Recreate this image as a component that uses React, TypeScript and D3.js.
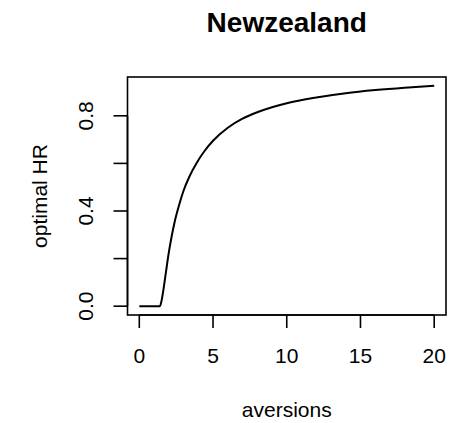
import React from "react";
import * as d3 from "d3";

// Optimal hedge ratio as a function of risk aversion
const aversions = [0, 0.5, 1.0, 1.4, 1.5, 1.6, 1.8, 2.0, 2.2, 2.4, 2.7, 3.0, 3.4, 3.9, 4.4, 5, 6, 7, 8, 9, 10, 12, 14, 16, 18, 20];
const optimalHR = [0, 0, 0, 0, 0.02, 0.055, 0.14, 0.225, 0.295, 0.355, 0.425, 0.485, 0.545, 0.603, 0.65, 0.695, 0.75, 0.788, 0.815, 0.836, 0.853, 0.877, 0.895, 0.908, 0.918, 0.926];

const xTicks = [0, 5, 10, 15, 20];
const yTicks = [0, 0.2, 0.4, 0.6, 0.8];
const yTickLabels = ["0.0", "", "0.4", "", "0.8"];

const title = "Newzealand";
const xLabel = "aversions";
const yLabel = "optimal HR";

const W = 463;
const H = 423;
const plot = { left: 127.5, right: 446, top: 77, bottom: 315 };

export default function App() {
  const [x0, x1] = d3.extent(aversions) as [number, number];
  const [y0, y1] = d3.extent(optimalHR) as [number, number];
  const px = (x1 - x0) * 0.04;
  const py = (y1 - y0) * 0.04;

  const x = d3.scaleLinear().domain([x0 - px, x1 + px]).range([plot.left, plot.right]);
  const y = d3.scaleLinear().domain([y0 - py, y1 + py]).range([plot.bottom, plot.top]);

  const pts = aversions.map((a, i) => [a, optimalHR[i]] as [number, number]);
  const line = d3
    .line<[number, number]>()
    .x((d) => x(d[0]))
    .y((d) => y(d[1]))
    .curve(d3.curveMonotoneX);

  const font = "'Liberation Sans', Arial, Helvetica, sans-serif";
  const cx = (plot.left + plot.right) / 2;
  const cy = (plot.top + plot.bottom) / 2;

  return (
    <svg
      width={W}
      height={H}
      style={{ position: "absolute", left: 0, top: 0, background: "#fff" }}
      fontFamily={font}
    >
      <rect x={0} y={0} width={W} height={H} fill="#fff" />
      <text x={cx} y={32} textAnchor="middle" fontSize={28} fontWeight="bold" fill="#000">
        {title}
      </text>

      <path d={line(pts) ?? ""} fill="none" stroke="#000" strokeWidth={2} />

      <rect
        x={plot.left}
        y={plot.top}
        width={plot.right - plot.left}
        height={plot.bottom - plot.top}
        fill="none"
        stroke="#000"
        strokeWidth={1.6}
      />

      {/* x axis */}
      <line x1={x(xTicks[0])} x2={x(xTicks[xTicks.length - 1])} y1={plot.bottom} y2={plot.bottom} stroke="#000" strokeWidth={1.6} />
      {xTicks.map((t) => (
        <g key={"x" + t}>
          <line x1={x(t)} x2={x(t)} y1={plot.bottom} y2={plot.bottom + 13} stroke="#000" strokeWidth={1.6} />
          <text x={x(t)} y={363} textAnchor="middle" fontSize={21} fill="#000">
            {t}
          </text>
        </g>
      ))}

      {/* y axis */}
      <line x1={plot.left} x2={plot.left} y1={y(yTicks[0])} y2={y(yTicks[yTicks.length - 1])} stroke="#000" strokeWidth={1.6} />
      {yTicks.map((t, i) => (
        <g key={"y" + t}>
          <line x1={plot.left - 14} x2={plot.left} y1={y(t)} y2={y(t)} stroke="#000" strokeWidth={1.6} />
          {yTickLabels[i] && (
            <text
              transform={`translate(93,${y(t)}) rotate(-90)`}
              textAnchor="middle"
              fontSize={21}
              fill="#000"
            >
              {yTickLabels[i]}
            </text>
          )}
        </g>
      ))}

      <text x={cx} y={417} textAnchor="middle" fontSize={21} fill="#000">
        {xLabel}
      </text>
      <text transform={`translate(47,${cy}) rotate(-90)`} textAnchor="middle" fontSize={21} fill="#000">
        {yLabel}
      </text>
    </svg>
  );
}
